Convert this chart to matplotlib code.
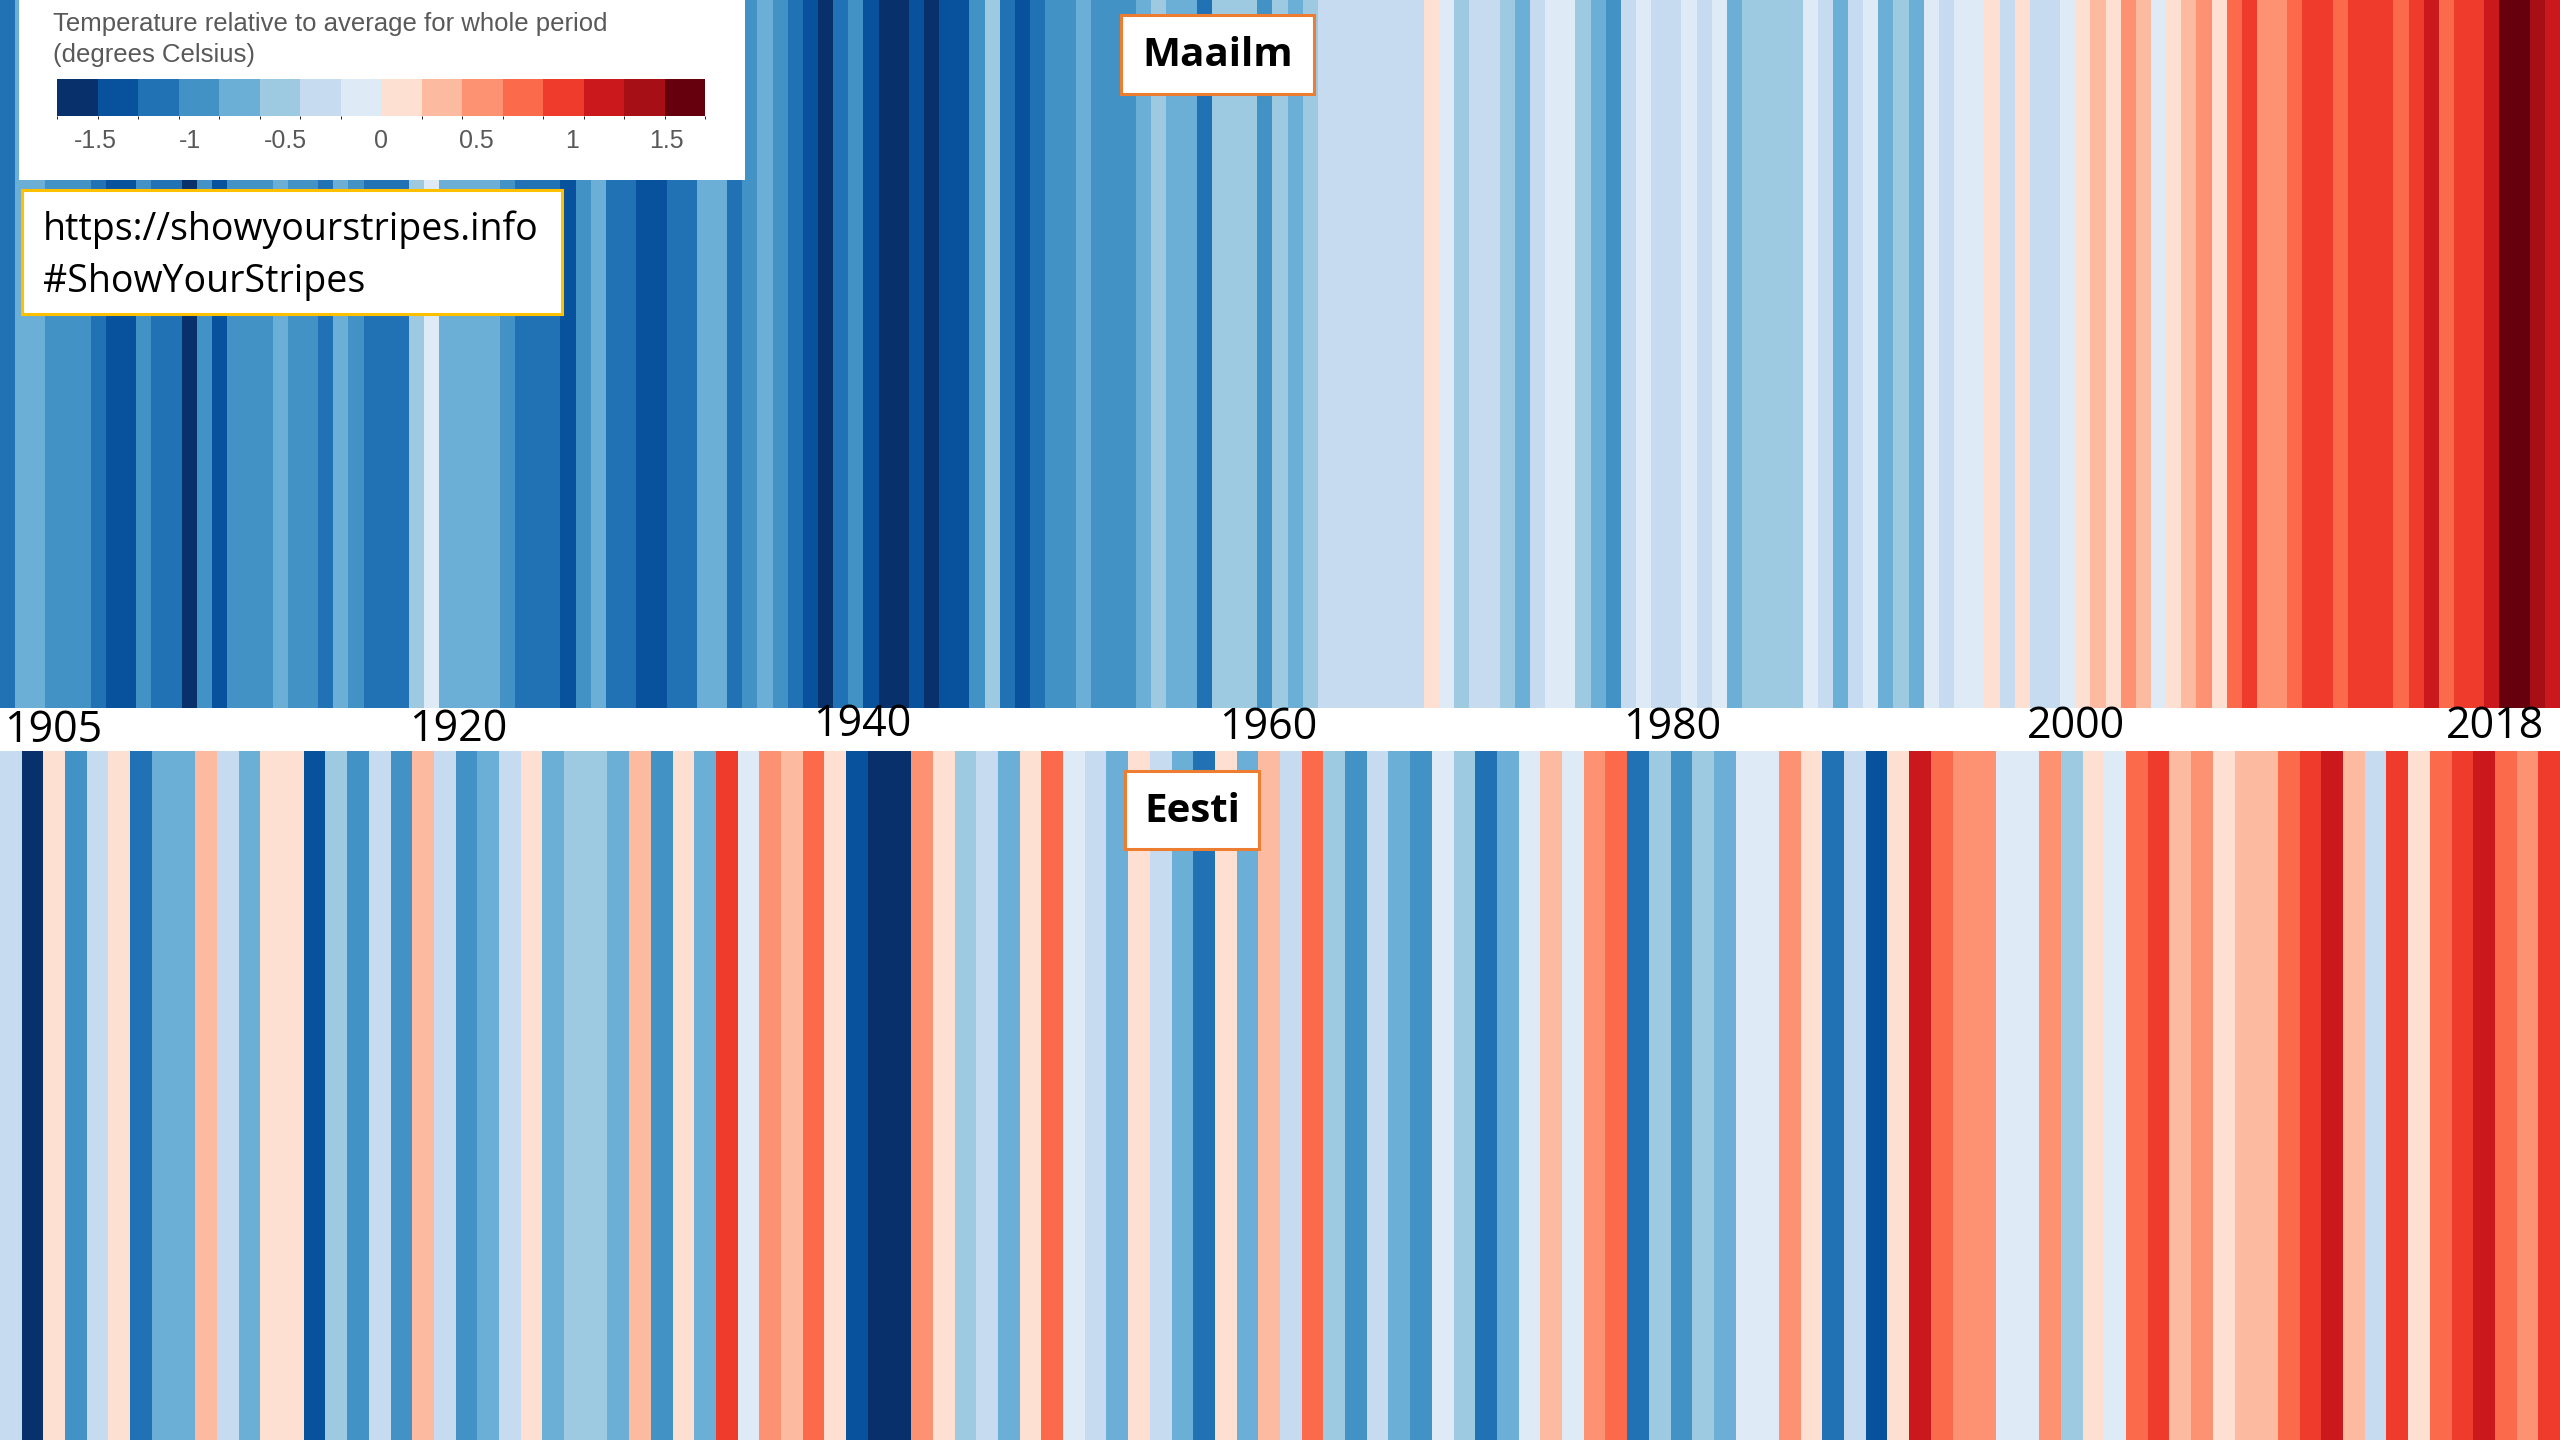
import numpy as np
import matplotlib
matplotlib.use('Agg')
import matplotlib.pyplot as plt
from matplotlib.colors import ListedColormap, BoundaryNorm
from matplotlib.patches import Rectangle
from matplotlib.cm import ScalarMappable

# temperature anomalies (deg C, relative to whole-period mean), read from the stripes
world_years = np.arange(1850, 2019)
world_anom = [
    -1.2, -0.75, -0.75, -0.95, -0.95, -0.95, -1.2, -1.4, -1.4, -0.95, -1.2, -1.2, -1.6, -0.95, -1.4, -0.95,
    -0.95, -0.95, -0.75, -0.95, -0.95, -1.2, -0.75, -0.95,
    -1.2, -1.2, -1.2, -0.55, -0.1, -0.75, -0.75, -0.75, -0.75, -0.95, -1.2, -1.2, -1.2, -1.4, -0.95, -0.75,
    -1.2, -1.2, -1.4, -1.4, -1.2, -1.2, -0.75, -0.75, -1.2,
    -0.95, -0.75, -0.95, -1.2, -1.4, -1.6, -1.2, -0.95, -1.4, -1.6, -1.6, -1.4, -1.6, -1.4, -1.4, -0.95,
    -0.55, -1.2, -1.4, -1.2, -0.95, -0.95, -0.75, -0.95,
    -0.95, -0.95, -0.75, -0.55, -0.75, -0.75, -1.2, -0.55, -0.55, -0.55, -0.95, -0.55, -0.75, -0.55, -0.3, -0.3,
    -0.3, -0.3, -0.3, -0.3, -0.3, 0.1, -0.1, -0.55,
    -0.3, -0.3, -0.55, -0.75, -0.3, -0.1, -0.1, -0.55, -0.75, -0.95, -0.3, -0.1, -0.3, -0.3, -0.1, -0.3,
    -0.1, -0.75, -0.55, -0.55, -0.55, -0.55, -0.1, -0.3, -0.75, -0.3, -0.1, -0.75, -0.55, -0.75,
    -0.1, -0.3, -0.1, -0.1, 0.1, -0.3, 0.1, -0.3, -0.3, -0.1, 0.1, 0.3, 0.1, 0.55, 0.3, -0.1, 0.1, 0.3, 0.55, 0.1,
    0.75, 0.95, 0.55, 0.55, 0.75, 0.95, 0.95, 0.75, 0.95, 0.95, 0.95, 0.75, 0.95, 1.15, 0.75, 0.95, 0.95, 1.15,
    1.6, 1.6, 1.4, 1.15,
]
eesti_years = np.arange(1901, 2019)
eesti_anom = [
    -0.3, -1.6, 0.1, -0.95, -0.3, 0.1, -1.2, -0.75, -0.75, 0.3, -0.3, -0.75, 0.1, 0.1, -1.4, -0.55, -0.95, -0.3,
    -0.95, 0.3, -0.3, -0.95, -0.75, -0.3, 0.1, -0.75, -0.55, -0.55, -0.75, 0.3,
    -0.95, 0.1, -0.75, 0.95, -0.1, 0.55, 0.3, 0.75, 0.1, -1.4, -1.6, -1.6, 0.55, 0.1, -0.55, -0.3, -0.75, 0.1,
    0.75, -0.1, -0.3, -0.75, 0.1, -0.3, -0.75, -1.2, 0.1, -0.75, 0.3,
    -0.3, 0.75, -0.55, -0.95, -0.3, -0.75, -0.95, -0.1, -0.55, -1.2, -0.75, -0.1, 0.3, -0.1, 0.55, 0.75, -1.2,
    -0.55, -0.95, -0.55, -0.75, -0.1, -0.1, 0.55, 0.1, -1.2, -0.3, -1.4, 0.1,
    1.15, 0.75, 0.55, 0.55, -0.1, -0.1, 0.55, -0.55, 0.1, -0.1, 0.75, 0.95, 0.3, 0.55, 0.1, 0.3, 0.3, 0.75,
    0.95, 1.15, 0.3, -0.3, 0.95, 0.1, 0.75, 0.95, 1.15, 0.75, 0.55, 0.95,
]
year_labels = ['1905', '1920', '1940', '1960', '1980', '2000', '2018']
cbar_ticks = [-1.5, -1, -0.5, 0, 0.5, 1, 1.5]
cbar_ticklabels = ['-1.5', '-1', '-0.5', '0', '0.5', '1', '1.5']

stripe_colors = ['#08306b', '#08519c', '#2171b5', '#4292c6', '#6baed6', '#9ecae1', '#c6dbef', '#deebf7',
                 '#fee0d2', '#fcbba1', '#fc9272', '#fb6a4a', '#ef3b2c', '#cb181d', '#a50f15', '#67000d']
cmap = ListedColormap(stripe_colors)
norm = BoundaryNorm(np.linspace(-1.7, 1.7, 17), cmap.N)

W, H = 2560, 1440
fig = plt.figure(figsize=(W / 100, H / 100), dpi=100)
fig.patch.set_facecolor('white')


def px_box(x0, y0, x1, y1):
    return [x0 / W, 1 - y1 / H, (x1 - x0) / W, (y1 - y0) / H]


def stripes(rect, years, anom):
    ax = fig.add_axes(px_box(*rect))
    edges = np.append(years - 0.5, years[-1] + 0.5)
    ax.pcolormesh(edges, [0, 1], np.array(anom)[np.newaxis, :], cmap=cmap, norm=norm)
    ax.set_xlim(edges[0], edges[-1])
    ax.set_ylim(0, 1)
    ax.axis('off')
    return ax


stripes((0, 0, W, 708), world_years, world_anom)
stripes((0, 751, W, H), eesti_years, eesti_anom)

# overlay in pixel coordinates for boxes and labels
ov = fig.add_axes([0, 0, 1, 1])
ov.set_xlim(0, W)
ov.set_ylim(H, 0)
ov.axis('off')
ov.patch.set_alpha(0)

label_x = [53, 458, 862, 1268, 1672, 2076, 2495]
label_y = [731, 730, 725, 728, 728, 727, 727]
for lab, x, y in zip(year_labels, label_x, label_y):
    ov.text(x, y, lab, ha='center', va='center', fontsize=31, family='Open Sans', color='black')

# region labels
for name, (x0, y0, x1, y1) in [('Maailm', (1121, 15, 1314, 94)), ('Eesti', (1125, 771, 1259, 849))]:
    ov.add_patch(Rectangle((x0, y0), x1 - x0, y1 - y0, facecolor='white', edgecolor='#ED7D31', linewidth=2.2))
    ov.text((x0 + x1) / 2, (y0 + y1) / 2 + 1, name, ha='center', va='center', fontsize=29,
            family='Open Sans', fontweight='bold', color='black')

# legend panel
ov.add_patch(Rectangle((19, 0), 726, 180, facecolor='white', edgecolor='none'))
ov.text(53, 31, 'Temperature relative to average for whole period', ha='left', va='baseline',
        fontsize=18.5, family='Liberation Sans', color='#595959')
ov.text(53, 62, '(degrees Celsius)', ha='left', va='baseline',
        fontsize=18.5, family='Liberation Sans', color='#595959')

# url box
ov.add_patch(Rectangle((22, 190), 540, 124, facecolor='white', edgecolor='#FFC000', linewidth=2.2))
ov.text(43, 240, 'https://showyourstripes.info', ha='left', va='baseline', fontsize=27,
        family='Open Sans', color='black')
ov.text(43, 292, '#ShowYourStripes', ha='left', va='baseline', fontsize=27,
        family='Open Sans', color='black')

cax = fig.add_axes(px_box(57, 79, 705, 116))
cb = fig.colorbar(ScalarMappable(norm=norm, cmap=cmap), cax=cax, orientation='horizontal', ticks=cbar_ticks)
cb.set_ticklabels(cbar_ticklabels)
cb.outline.set_visible(False)
cax.tick_params(length=0, labelsize=18, colors='#595959', pad=9)
for t in cax.get_xticklabels():
    t.set_family('Liberation Sans')

fig.savefig('out.png', dpi=100)
